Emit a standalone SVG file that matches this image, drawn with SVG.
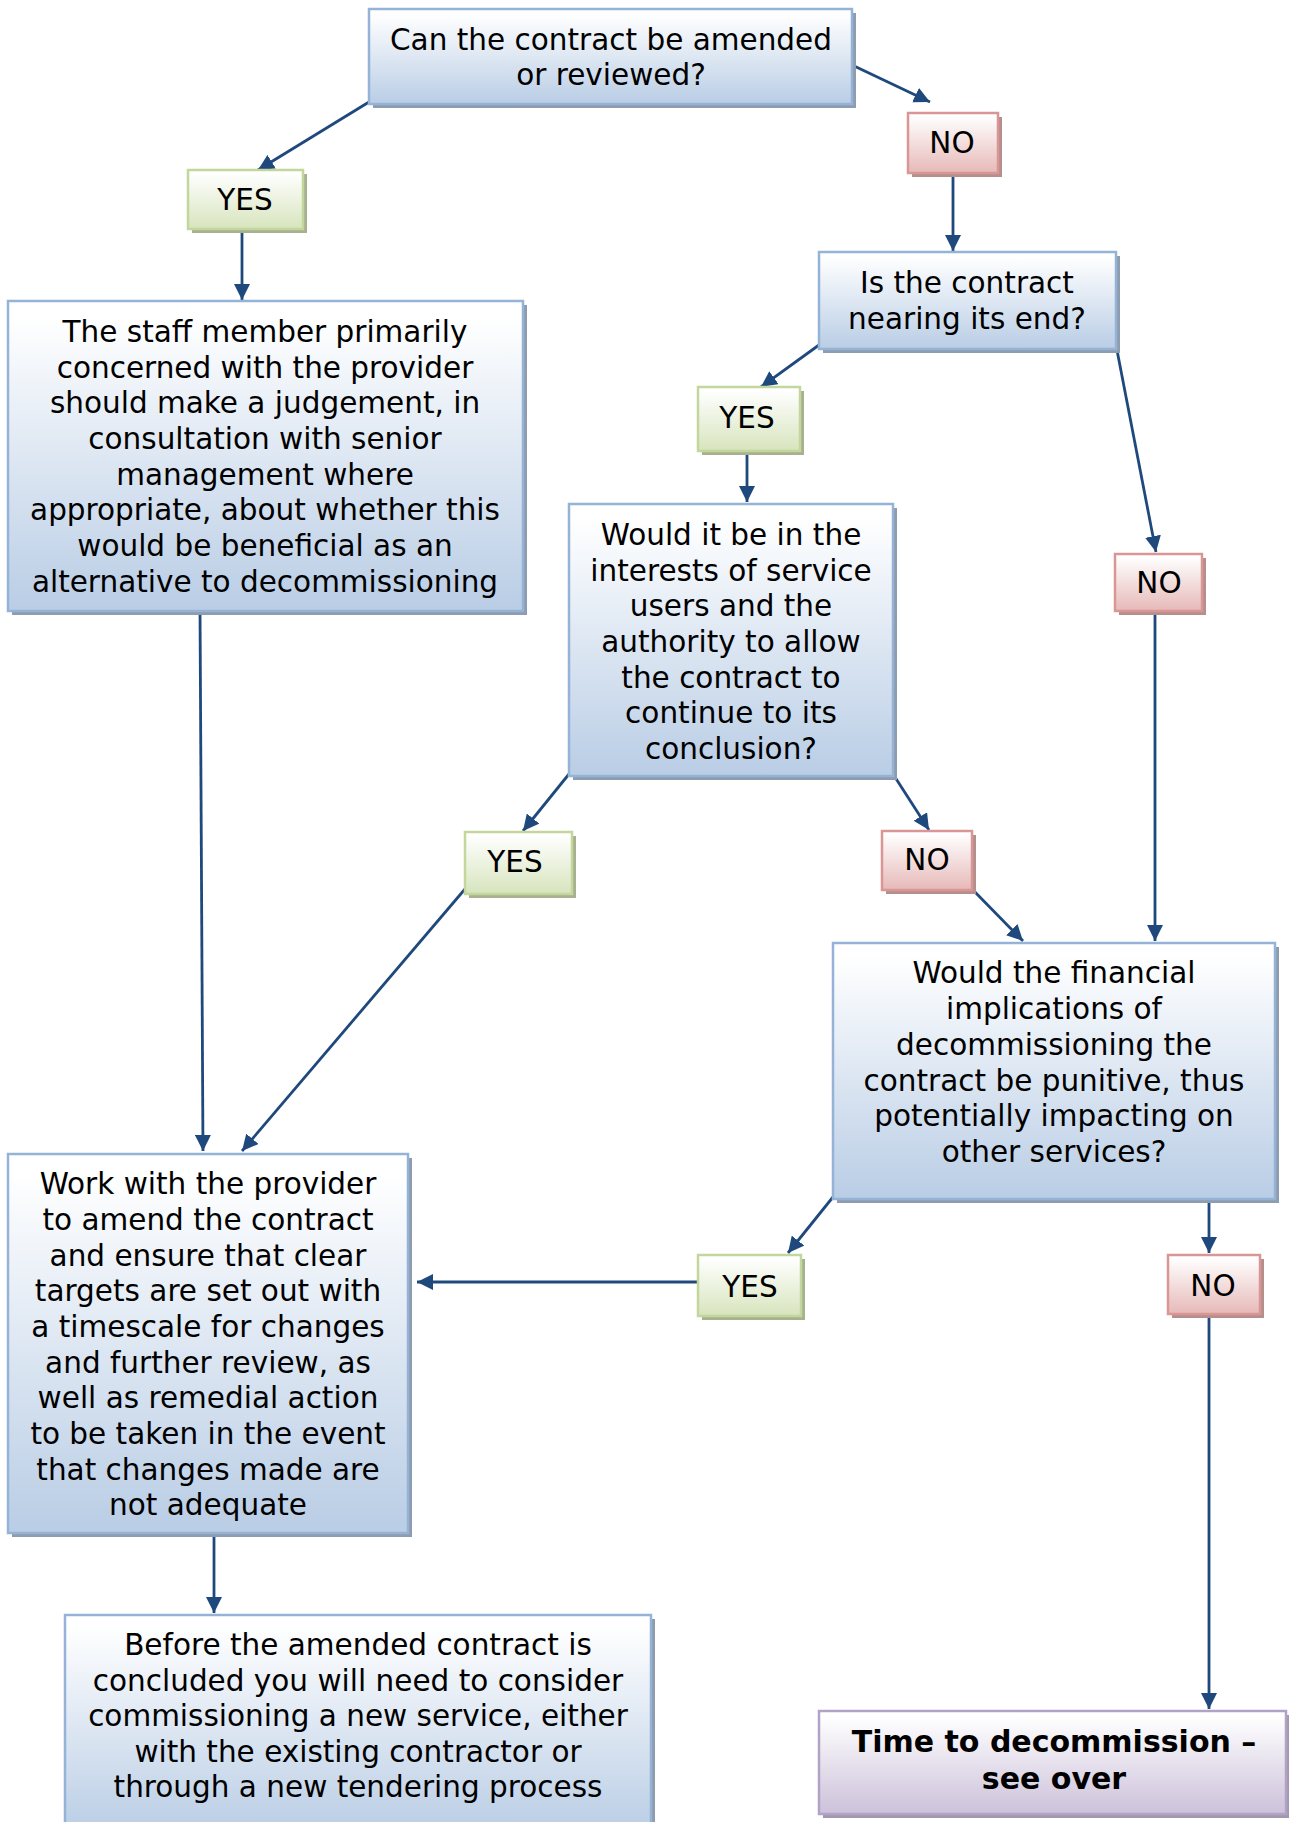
<svg xmlns="http://www.w3.org/2000/svg" width="1290" height="1822" viewBox="0 0 1290 1822">
<style>
text{font-family:"DejaVu Sans","Verdana",sans-serif;font-size:29.5px;fill:#000;text-anchor:middle}
.b{font-weight:bold;font-size:30px}
.blue{fill:url(#gBlue);stroke:#95b3d7;stroke-width:2.5}
.green{fill:url(#gGreen);stroke:#c3d69b;stroke-width:2.5}
.red{fill:url(#gRed);stroke:#d99694;stroke-width:2.5}
.purple{fill:url(#gPurple);stroke:#b3a2c7;stroke-width:2.5}
.shB{fill:#8e9caf}
.shG{fill:#a7b190}
.shR{fill:#b58f8e}
.shP{fill:#a198ac}
.c line{stroke:#1f497d;stroke-width:2.8;marker-end:url(#ah)}
</style>
<defs>
<linearGradient id="gBlue" x1="0" y1="0" x2="0" y2="1"><stop offset="0.05" stop-color="#ffffff"/><stop offset="1" stop-color="#b9cde5"/></linearGradient>
<linearGradient id="gGreen" x1="0" y1="0" x2="0" y2="1"><stop offset="0.05" stop-color="#ffffff"/><stop offset="1" stop-color="#d7e4bd"/></linearGradient>
<linearGradient id="gRed" x1="0" y1="0" x2="0" y2="1"><stop offset="0.05" stop-color="#ffffff"/><stop offset="1" stop-color="#e6b9b8"/></linearGradient>
<linearGradient id="gPurple" x1="0" y1="0" x2="0" y2="1"><stop offset="0.05" stop-color="#ffffff"/><stop offset="1" stop-color="#ccc1da"/></linearGradient>
<marker id="ah" markerUnits="userSpaceOnUse" markerWidth="16" markerHeight="16" refX="16" refY="8" orient="auto"><path d="M0,0 L16,8 L0,16 z" fill="#1f497d"/></marker>
</defs>

<g class="c" id="connectors">
<line x1="369" y1="102" x2="258" y2="170"/>
<line x1="852" y1="65" x2="930" y2="102"/>
<line x1="953" y1="173" x2="953" y2="251"/>
<line x1="242" y1="229" x2="242" y2="300"/>
<line x1="819" y1="345" x2="761" y2="387"/>
<line x1="747" y1="451" x2="747" y2="502"/>
<line x1="1116" y1="345" x2="1156" y2="552"/>
<line x1="1155" y1="611" x2="1155" y2="941"/>
<line x1="569" y1="774" x2="523" y2="831"/>
<line x1="893" y1="774" x2="929" y2="830"/>
<line x1="972" y1="889" x2="1023" y2="941"/>
<line x1="465" y1="889" x2="242" y2="1151"/>
<line x1="200" y1="608" x2="203" y2="1151"/>
<line x1="833" y1="1197" x2="788" y2="1253"/>
<line x1="698" y1="1282" x2="417" y2="1282"/>
<line x1="1209" y1="1197" x2="1209" y2="1253"/>
<line x1="1209" y1="1314" x2="1209" y2="1709"/>
<line x1="214" y1="1533" x2="214" y2="1613"/>
</g>

<g id="q1">
<rect class="shB" x="373" y="13" width="483" height="95"/>
<rect class="blue" x="369" y="9" width="483" height="95"/>
<text x="611" y="50">Can the contract be amended</text>
<text x="611" y="85">or reviewed?</text>
</g>

<g id="yes1">
<rect class="shG" x="192" y="174" width="115" height="59"/>
<rect class="green" x="188" y="170" width="115" height="59"/>
<text x="245" y="210">YES</text>
</g>

<g id="no1">
<rect class="shR" x="912" y="117" width="90" height="60"/>
<rect class="red" x="908" y="113" width="90" height="60"/>
<text x="952" y="153">NO</text>
</g>

<g id="q2">
<rect class="shB" x="823" y="256" width="297" height="97"/>
<rect class="blue" x="819" y="252" width="297" height="97"/>
<text x="967" y="293">Is the contract</text>
<text x="967" y="329">nearing its end?</text>
</g>

<g id="staff">
<rect class="shB" x="12" y="305" width="515" height="310"/>
<rect class="blue" x="8" y="301" width="515" height="310"/>
<text x="265" y="342">The staff member primarily</text>
<text x="265" y="378">concerned with the provider</text>
<text x="265" y="413">should make a judgement, in</text>
<text x="265" y="449">consultation with senior</text>
<text x="265" y="485">management where</text>
<text x="265" y="520">appropriate, about whether this</text>
<text x="265" y="556">would be beneficial as an</text>
<text x="265" y="592">alternative to decommissioning</text>
</g>

<g id="yes2">
<rect class="shG" x="702" y="391" width="102" height="64"/>
<rect class="green" x="698" y="387" width="102" height="64"/>
<text x="747" y="428">YES</text>
</g>

<g id="no2">
<rect class="shR" x="1119" y="558" width="87" height="57"/>
<rect class="red" x="1115" y="554" width="87" height="57"/>
<text x="1159" y="593">NO</text>
</g>

<g id="q3">
<rect class="shB" x="573" y="508" width="324" height="272"/>
<rect class="blue" x="569" y="504" width="324" height="272"/>
<text x="731" y="545">Would it be in the</text>
<text x="731" y="581">interests of service</text>
<text x="731" y="616">users and the</text>
<text x="731" y="652">authority to allow</text>
<text x="731" y="688">the contract to</text>
<text x="731" y="723">continue to its</text>
<text x="731" y="759">conclusion?</text>
</g>

<g id="yes3">
<rect class="shG" x="469" y="836" width="107" height="62"/>
<rect class="green" x="465" y="832" width="107" height="62"/>
<text x="515" y="872">YES</text>
</g>

<g id="no3">
<rect class="shR" x="886" y="835" width="90" height="59"/>
<rect class="red" x="882" y="831" width="90" height="59"/>
<text x="927" y="870">NO</text>
</g>

<g id="q4">
<rect class="shB" x="837" y="947" width="442" height="256"/>
<rect class="blue" x="833" y="943" width="442" height="256"/>
<text x="1054" y="983">Would the financial</text>
<text x="1054" y="1019">implications of</text>
<text x="1054" y="1055">decommissioning the</text>
<text x="1054" y="1091">contract be punitive, thus</text>
<text x="1054" y="1126">potentially impacting on</text>
<text x="1054" y="1162">other services?</text>
</g>

<g id="work">
<rect class="shB" x="12" y="1158" width="400" height="379"/>
<rect class="blue" x="8" y="1154" width="400" height="379"/>
<text x="208" y="1194">Work with the provider</text>
<text x="208" y="1230">to amend the contract</text>
<text x="208" y="1266">and ensure that clear</text>
<text x="208" y="1301">targets are set out with</text>
<text x="208" y="1337">a timescale for changes</text>
<text x="208" y="1373">and further review, as</text>
<text x="208" y="1408">well as remedial action</text>
<text x="208" y="1444">to be taken in the event</text>
<text x="208" y="1480">that changes made are</text>
<text x="208" y="1515">not adequate</text>
</g>

<g id="yes4">
<rect class="shG" x="702" y="1259" width="103" height="61"/>
<rect class="green" x="698" y="1255" width="103" height="61"/>
<text x="750" y="1297">YES</text>
</g>

<g id="no4">
<rect class="shR" x="1172" y="1259" width="92" height="59"/>
<rect class="red" x="1168" y="1255" width="92" height="59"/>
<text x="1213" y="1296">NO</text>
</g>

<g id="before">
<rect class="shB" x="69" y="1619" width="586" height="220"/>
<rect class="blue" x="65" y="1615" width="586" height="220"/>
<text x="358" y="1655">Before the amended contract is</text>
<text x="358" y="1691">concluded you will need to consider</text>
<text x="358" y="1726">commissioning a new service, either</text>
<text x="358" y="1762">with the existing contractor or</text>
<text x="358" y="1797">through a new tendering process</text>
</g>

<g id="decom">
<rect class="shP" x="823" y="1715" width="466" height="103"/>
<rect class="purple" x="819" y="1711" width="467" height="103"/>
<text class="b" x="1054" y="1752">Time to decommission –</text>
<text class="b" x="1054" y="1789">see over</text>
</g>
</svg>
